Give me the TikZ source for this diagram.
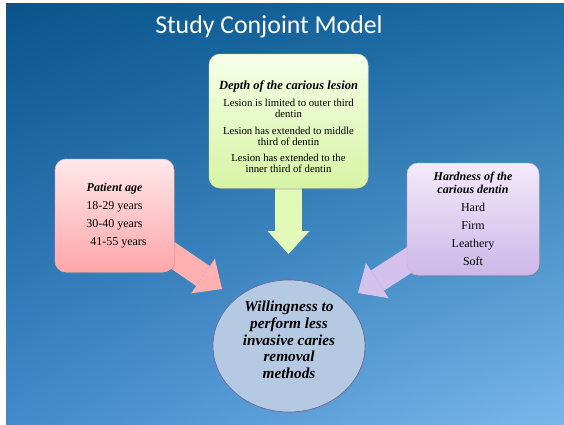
\documentclass[tikz,border=0pt]{standalone}
\usepackage{fontspec}
\setmainfont{Liberation Serif}
\newfontfamily\titlefont{Carlito}
\usepackage{tikz}
\usetikzlibrary{arrows.meta}
\usetikzlibrary{shapes.geometric}
\usetikzlibrary{shadows}
\usetikzlibrary{shadings}
\usetikzlibrary{positioning}

\definecolor{bgul}{RGB}{9,84,140}
\definecolor{bgur}{RGB}{28,108,166}
\definecolor{bgll}{RGB}{66,138,204}
\definecolor{bglr}{RGB}{121,183,234}
\definecolor{greentop}{RGB}{246,255,232}
\definecolor{greenbot}{RGB}{214,244,164}
\definecolor{pinktop}{RGB}{255,232,236}
\definecolor{pinkbot}{RGB}{255,166,168}
\definecolor{purptop}{RGB}{243,234,250}
\definecolor{purpbot}{RGB}{205,184,232}
\definecolor{greenarr}{RGB}{226,249,184}
\definecolor{pinkarr}{RGB}{255,176,176}
\definecolor{purparr}{RGB}{212,194,236}
\definecolor{goalfill}{RGB}{181,201,226}

\begin{document}
\begin{tikzpicture}[x=1pt,y=-1pt,
  box/.style={draw=#1, line width=0.5pt, rounded corners=11pt, align=center, inner sep=2pt,
    drop shadow={shadow xshift=1pt, shadow yshift=-1.5pt, opacity=0.35}},
  bigarrow/.style={draw=#1, line width=24pt, -{Triangle[width=42pt,length=23pt,line width=0pt,fill=#1]}},
  heading/.style={font=\titlefont\fontsize{25.8}{30}\selectfont, text=white}]
\useasboundingbox (0,0) rectangle (564,424);
% background
\shade[upper left=bgul, upper right=bgur, lower left=bgll, lower right=bglr] (6,3) rectangle (564,424);
% Title
\node[heading, anchor=base] (title) at (269,33) {Study Conjoint Model};
% arrow tips
\coordinate (agetip) at (222,289);
\coordinate (depthtip) at (288.5,254);
\coordinate (hardtip) at (358,293);
% Block arrows (drawn under the boxes)
\draw[bigarrow=pinkarr] (114.5,215.5) -- (agetip);
\draw[bigarrow=purparr] (473,219) -- (hardtip);
\draw[bigarrow=greenarr, line width=27pt] (288.5,121) -- (depthtip);
% Depth box
\node[box=white!75!olive, top color=greentop, bottom color=greenbot,
  minimum width=159pt, minimum height=134pt,
  label={[align=center, yshift=-5.5pt, font=\fontsize{10.7}{11}\selectfont]center:
   \textbf{\textit{\fontsize{12.5}{11}\selectfont Depth of the carious lesion}}\\[5.5pt]
   Lesion is limited to outer third\\ dentin\\[6.5pt]
   Lesion has extended to middle\\ third of dentin\\[4.5pt]
   Lesion has extended to the\\ inner third of dentin}]
  (depth) at (288.5,121) {};
% Age box
\node[box=white!70!red, top color=pinktop, bottom color=pinkbot,
  minimum width=119pt, minimum height=113pt, font=\fontsize{12}{18}\selectfont]
  (age) at (114.5,215.5)
  {\textbf{\textit{Patient age}}\\ 18-29 years\\ 30-40 years\\ \hspace*{8pt}41-55 years};
% Hardness box
\node[box=white!70!violet, top color=purptop, bottom color=purpbot,
  minimum width=132pt, minimum height=112pt, font=\fontsize{12}{12.5}\selectfont]
  (hard) at (473,219)
  {\textbf{\textit{Hardness of the}}\\ \textbf{\textit{carious dentin}}\\[5.5pt]
   Hard\\[5.5pt] Firm\\[5.5pt] Leathery\\[5.5pt] Soft};
% Goal circle
\node[ellipse, draw=gray!80!blue, line width=0.6pt, fill=goalfill,
  minimum width=152pt, minimum height=132pt, inner sep=0pt,
  drop shadow={shadow xshift=1pt, shadow yshift=-1.5pt, opacity=0.3},
  label={[align=center, yshift=6pt, font=\fontsize{15.3}{16.7}\selectfont\bfseries\itshape]center:
    Willingness to\\ perform less\\ invasive caries\\ removal\\ methods}]
  (goal) at (289,346) {};
\end{tikzpicture}
\end{document}
